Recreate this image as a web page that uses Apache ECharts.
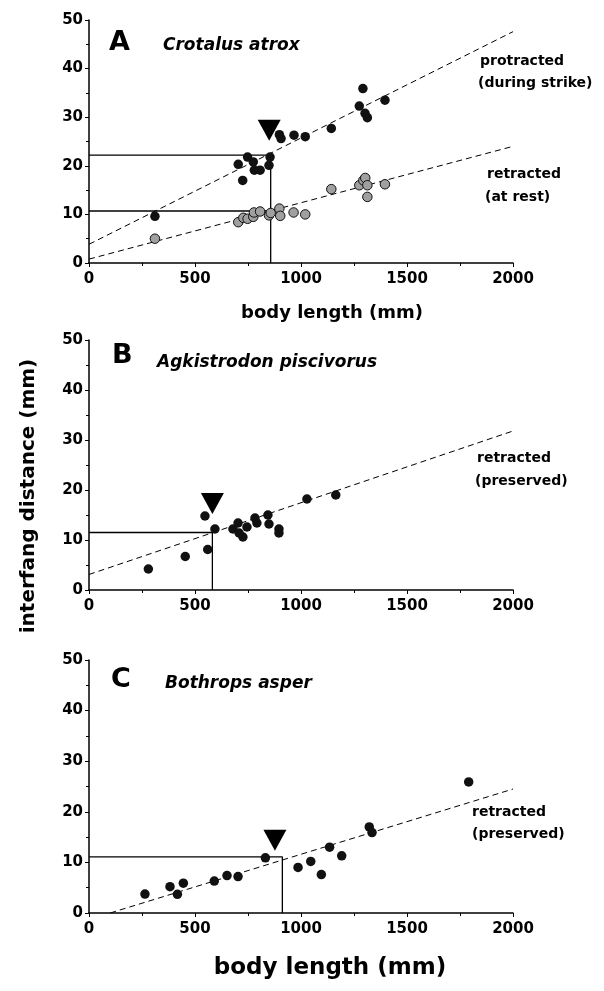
<!DOCTYPE html>
<html>
<head>
<meta charset="utf-8">
<title>interfang distance vs body length</title>
<script src="https://cdn.jsdelivr.net/npm/echarts@6/dist/echarts.min.js"></script>
<style>
  html, body { margin: 0; padding: 0; background: #fff; }
  #chart { width: 604px; height: 991px; }
</style>
</head>
<body>
<div id="chart"></div>
<script>
// tick labels
const xTicks = [0, 500, 1000, 1500, 2000];
const yTicks = [0, 10, 20, 30, 40, 50];

// A - Crotalus atrox  [body length mm, interfang mm]
const atroxProtracted = [
  [311, 9.6], [704, 20.3], [725, 17.0], [748, 21.8], [775, 20.8], [780, 19.1],
  [807, 19.1], [849, 20.1], [854, 21.8], [898, 26.4], [906, 25.6], [967, 26.3],
  [1020, 26.0], [1143, 27.7], [1275, 32.3], [1292, 35.9], [1302, 30.8],
  [1313, 29.9], [1396, 33.5]
];
const atroxRetracted = [
  [311, 5.0], [704, 8.4], [728, 9.3], [748, 9.1], [775, 9.5], [778, 10.4],
  [807, 10.6], [849, 9.8], [857, 10.3], [898, 11.2], [902, 9.7], [965, 10.4],
  [1020, 10.0], [1143, 15.2], [1275, 16.0], [1294, 17.0], [1303, 17.5],
  [1313, 16.0], [1313, 13.6], [1396, 16.2]
];
const atroxProtractedFit = [[0, 3.85], [2000, 47.6]];
const atroxRetractedFit = [[0, 0.8], [2000, 24.0]];
const atroxGuideHigh = [[0, 22.2], [857, 22.2], [857, 0]];
const atroxGuideLow = [[0, 10.7], [857, 10.7]];
const atroxArrow = [[850, 27.3]];

// B - Agkistrodon piscivorus
const piscivorusRetracted = [
  [280, 4.2], [454, 6.7], [547, 14.8], [560, 8.1], [594, 12.2], [679, 12.2],
  [703, 13.4], [708, 11.4], [726, 10.6], [745, 12.6], [783, 14.4], [792, 13.4],
  [844, 15.0], [849, 13.2], [896, 12.2], [896, 11.4], [1028, 18.2], [1164, 19.0]
];
const piscivorusFit = [[0, 3.1], [2000, 31.8]];
const piscivorusGuide = [[0, 11.5], [582, 11.5], [582, 0]];
const piscivorusArrow = [[582, 17.3]];

// C - Bothrops asper
const asperRetracted = [
  [264, 3.75], [382, 5.2], [417, 3.7], [445, 5.9], [591, 6.3], [651, 7.4],
  [703, 7.2], [832, 10.9], [986, 9.0], [1046, 10.2], [1096, 7.6], [1135, 13.0],
  [1192, 11.3], [1322, 17.0], [1335, 15.9], [1791, 25.9]
];
const asperFit = [[100, 0], [2000, 24.5]];
const asperGuide = [[0, 11.1], [912, 11.1], [912, 0]];
const asperArrow = [[877, 14.4]];

const FONT = "DejaVu Sans";

const myChart = echarts.init(document.getElementById("chart"));

const panels = [
  { top: 20, height: 243 },
  { top: 340, height: 250 },
  { top: 660, height: 253 }
];

const grid = panels.map((p) => ({ left: 89, width: 424, top: p.top, height: p.height }));

const xAxis = panels.map((p, i) => ({
  type: "value",
  gridIndex: i,
  min: xTicks[0],
  max: xTicks[xTicks.length - 1],
  interval: xTicks[1] - xTicks[0],
  axisLine: { lineStyle: { color: "#000", width: 1.5 } },
  axisTick: { length: 4, lineStyle: { color: "#000", width: 1 } },
  minorTick: { show: true, splitNumber: 2, length: 3, lineStyle: { color: "#000" } },
  splitLine: { show: false },
  axisLabel: {
    color: "#000", fontFamily: FONT, fontWeight: "bold", fontSize: 15, margin: 9,
    formatter: (v) => String(v)
  }
}));

const yAxis = panels.map((p, i) => ({
  type: "value",
  gridIndex: i,
  min: yTicks[0],
  max: yTicks[yTicks.length - 1],
  interval: yTicks[1] - yTicks[0],
  axisLine: { show: true, lineStyle: { color: "#000", width: 1.5 } },
  axisTick: { show: true, length: 4, lineStyle: { color: "#000", width: 1 } },
  minorTick: { show: true, splitNumber: 2, length: 3, lineStyle: { color: "#000" } },
  splitLine: { show: false },
  axisLabel: { color: "#000", fontFamily: FONT, fontWeight: "bold", fontSize: 15, margin: 6 }
}));

function dots(data, i, fill) {
  return {
    type: "scatter", xAxisIndex: i, yAxisIndex: i, data: data,
    symbolSize: 9.5, z: 5,
    itemStyle: fill
      ? { color: fill, borderColor: "#111", borderWidth: 1, opacity: 1 }
      : { color: "#111", opacity: 1 }
  };
}
function fit(data, i) {
  return {
    type: "line", xAxisIndex: i, yAxisIndex: i, data: data,
    symbol: "none", silent: true, z: 2,
    lineStyle: { color: "#000", width: 1, type: [6, 4] }
  };
}
function guide(data, i) {
  return {
    type: "line", xAxisIndex: i, yAxisIndex: i, data: data,
    symbol: "none", silent: true, z: 2,
    lineStyle: { color: "#000", width: 1.3 }
  };
}
function arrow(data, i) {
  return {
    type: "scatter", xAxisIndex: i, yAxisIndex: i, data: data,
    symbol: "triangle", symbolRotate: 180, symbolSize: [23, 21], z: 6,
    itemStyle: { color: "#000", opacity: 1 }
  };
}

const series = [
  guide(atroxGuideHigh, 0), guide(atroxGuideLow, 0),
  fit(atroxProtractedFit, 0), fit(atroxRetractedFit, 0),
  dots(atroxRetracted, 0, "#a0a0a0"), dots(atroxProtracted, 0),
  arrow(atroxArrow, 0),
  guide(piscivorusGuide, 1), fit(piscivorusFit, 1),
  dots(piscivorusRetracted, 1), arrow(piscivorusArrow, 1),
  guide(asperGuide, 2), fit(asperFit, 2),
  dots(asperRetracted, 2), arrow(asperArrow, 2)
];

function label(x, y, text, size, style) {
  return {
    type: "text", x: x, y: y,
    style: {
      text: text, fill: "#000", fontFamily: FONT, fontWeight: "bold",
      fontStyle: style || "normal", fontSize: size,
      align: "left", verticalAlign: "middle"
    }
  };
}

const graphic = [
  label(109, 43, "A", 27), label(163, 46, "Crotalus atrox", 17, "italic"),
  label(112, 356, "B", 27), label(157, 363, "Agkistrodon piscivorus", 17, "italic"),
  label(111, 680, "C", 27), label(165, 684, "Bothrops asper", 17, "italic"),
  label(480, 61, "protracted", 14), label(478, 83, "(during strike)", 14),
  label(487, 174, "retracted", 14), label(485, 197, "(at rest)", 14),
  label(477, 458, "retracted", 14), label(475, 481, "(preserved)", 14),
  label(472, 812, "retracted", 14), label(472, 834, "(preserved)", 14),
  {
    type: "text", x: 332, y: 313,
    style: { text: "body length (mm)", fill: "#000", fontFamily: FONT, fontWeight: "bold",
      fontSize: 18, align: "center", verticalAlign: "middle" }
  },
  {
    type: "text", x: 330, y: 968,
    style: { text: "body length (mm)", fill: "#000", fontFamily: FONT, fontWeight: "bold",
      fontSize: 23, align: "center", verticalAlign: "middle" }
  },
  {
    type: "text", x: 29, y: 496, rotation: Math.PI / 2,
    style: { text: "interfang distance (mm)", fill: "#000", fontFamily: FONT, fontWeight: "bold",
      fontSize: 20, align: "center", verticalAlign: "middle" }
  }
];

myChart.setOption({
  animation: false,
  backgroundColor: "#fff",
  grid: grid,
  xAxis: xAxis,
  yAxis: yAxis,
  series: series,
  graphic: graphic
});
</script>
</body>
</html>
